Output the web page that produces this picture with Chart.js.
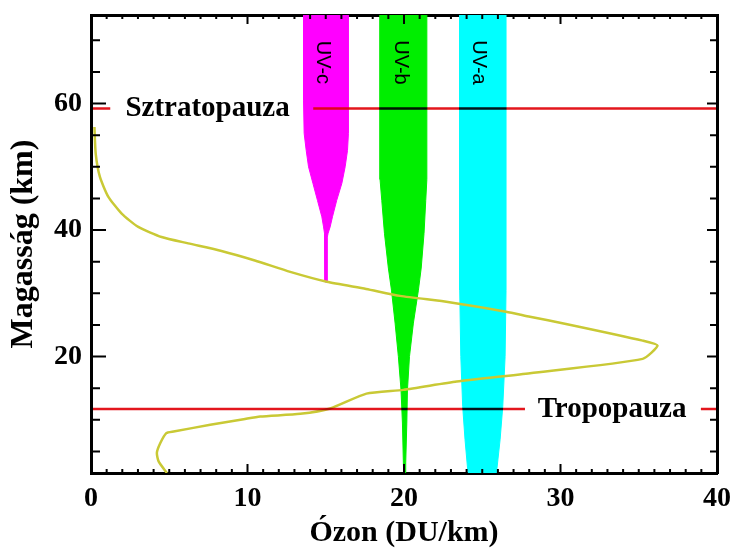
<!DOCTYPE html>
<html>
<head>
<meta charset="utf-8">
<script src="https://cdn.jsdelivr.net/npm/chart.js@4.4.1/dist/chart.umd.min.js"></script>
<style>
  html, body { margin: 0; padding: 0; background: #fff; }
  #wrap { width: 732px; height: 548px; }
</style>
</head>
<body>
<div id="wrap"><canvas id="chart"></canvas></div>
<script>
// ozone profile, read from top to bottom (DU/km vs km)
const ozoneX = [0.22, 0.3, 0.57, 1.1, 1.96, 3.02, 4.51, 6.21, 8.34, 10.47, 12.73, 15.07, 17.58,
  19.75, 22.9, 26.52, 28.05, 30.35, 35.25, 36.2, 35.25, 28.05, 23.37, 19.96, 17.6, 15.28, 13.37,
  10.81, 9.75, 7.62, 5.28, 4.81, 4.43, 4.21, 4.32, 4.85];
const ozoneY = [56.3, 52.1, 48.4, 45.3, 42.6, 40.5, 38.9, 37.9, 36.7, 35.2, 33.4, 31.84, 30.7,
  29.6, 28.6, 27.1, 26.3, 25.16, 22.53, 21.74, 19.64, 17.38, 16.05, 14.74, 14.15, 11.8, 10.95,
  10.53, 10.1, 9.22, 8.16, 7.9, 6.33, 4.8, 3.43, 1.6];

// UV bands: altitude with left / right edge of each band
const uvcAlt = [74, 60.5, 55.3, 52.6, 50.0, 47.4, 44.7, 42.1, 40.5, 39.5, 38.9, 31.8];
const uvcLeft = [13.58, 13.58, 13.62, 13.75, 13.9, 14.18, 14.47, 14.75, 14.86, 14.92, 14.95, 14.95];
const uvcRight = [16.45, 16.45, 16.45, 16.39, 16.24, 16.03, 15.7, 15.43, 15.28, 15.15, 15.1, 15.1];

const uvbAlt = [74, 48, 44.7, 39.5, 34, 30.5, 25.3, 20, 14.7, 9.5, 3.2, 1.6];
const uvbLeft = [18.47, 18.47, 18.58, 18.75, 19.0, 19.2, 19.43, 19.64, 19.81, 19.9, 19.96, 19.98];
const uvbRight = [21.46, 21.46, 21.39, 21.28, 21.1, 20.92, 20.6, 20.35, 20.22, 20.18, 20.11, 20.08];

const uvaAlt = [74, 30.5, 20, 12.1, 6.85, 2.1, 1.6];
const uvaLeft = [23.56, 23.56, 23.63, 23.75, 23.9, 24.07, 24.1];
const uvaRight = [26.52, 26.52, 26.46, 26.31, 26.14, 25.93, 25.9];

const bandNames = ["UV-c", "UV-b", "UV-a"];
const bandLabelX = [14.77, 19.75, 24.73];
const bandLabelY = 66.5;

// pause lines (km) and the x ranges where they are drawn
const stratopause = 59.2;
const stratoSegments = [[0, 1.23], [14.2, 40]];
const tropopause = 11.7;
const tropoSegments = [[0, 27.73], [38.97, 40]];
const stratoLabelX = 2.2;
const tropoLabelX = 28.54;

const SERIF = '"Liberation Serif", "Times New Roman", serif';

function band(alt, left, right) {
  const pts = alt.map((a, i) => ({ x: left[i], y: a }));
  for (let i = alt.length - 1; i >= 0; i--) pts.push({ x: right[i], y: alt[i] });
  return pts;
}

function hline(level, segments) {
  const pts = [];
  segments.forEach(([a, b], i) => {
    if (i > 0) pts.push({ x: a, y: null });
    pts.push({ x: a, y: level }, { x: b, y: level });
  });
  return pts;
}

// fixed box sizes so the plot area sits where the original one does
function fixBox(w, h) {
  return (s) => {
    if (w !== null) s.width = w;
    if (h !== null) s.height = h;
    s.paddingLeft = s.paddingRight = s.paddingTop = s.paddingBottom = 0;
  };
}

const blendMode = {
  id: "blendMode",
  beforeDatasetDraw(chart, args) {
    const ds = chart.data.datasets[args.index];
    if (ds.blend) {
      chart.ctx.save();
      chart.ctx.globalCompositeOperation = ds.blend;
    }
  },
  afterDatasetDraw(chart, args) {
    if (chart.data.datasets[args.index].blend) chart.ctx.restore();
  },
};

const insideTicks = {
  id: "insideTicks",
  afterDraw(chart) {
    const { ctx, chartArea: a, scales: { x, y } } = chart;
    ctx.save();
    ctx.strokeStyle = "#000";
    ctx.lineWidth = 2;
    ctx.beginPath();
    x.ticks.forEach((t) => {
      const px = x.getPixelForValue(t.value);
      const len = t.value % 10 === 0 ? 9 : 4;
      ctx.moveTo(px, a.bottom); ctx.lineTo(px, a.bottom - len);
      ctx.moveTo(px, a.top); ctx.lineTo(px, a.top + len);
    });
    y.ticks.forEach((t) => {
      const py = y.getPixelForValue(t.value);
      const major = t.value % 20 === 0;
      ctx.moveTo(a.left, py); ctx.lineTo(a.left + (major ? 15 : 9), py);
      ctx.moveTo(a.right, py); ctx.lineTo(a.right - (major ? 10 : 7), py);
    });
    ctx.stroke();
    ctx.restore();
  },
};

const notes = {
  id: "notes",
  afterDatasetsDraw(chart) {
    const { ctx, scales: { x, y } } = chart;
    ctx.save();
    ctx.fillStyle = "#000";
    ctx.font = "bold 29px " + SERIF;
    ctx.textAlign = "left";
    ctx.textBaseline = "middle";
    ctx.fillText("Sztratopauza", x.getPixelForValue(stratoLabelX), y.getPixelForValue(stratopause));
    ctx.fillText("Tropopauza", x.getPixelForValue(tropoLabelX), y.getPixelForValue(tropopause));
    ctx.font = '20px "Liberation Sans", Arial, sans-serif';
    ctx.textAlign = "center";
    bandNames.forEach((name, i) => {
      ctx.save();
      ctx.translate(x.getPixelForValue(bandLabelX[i]), y.getPixelForValue(bandLabelY));
      ctx.rotate(Math.PI / 2);
      ctx.fillText(name, 0, 0);
      ctx.restore();
    });
    ctx.restore();
  },
};

const bandStyle = (color) => ({
  backgroundColor: color,
  borderColor: color,
  borderWidth: 1,
  pointRadius: 0,
  fill: "shape",
  tension: 0,
  order: 2,
});

new Chart(document.getElementById("chart"), {
  type: "line",
  data: {
    datasets: [
      { data: hline(stratopause, stratoSegments), borderColor: "#e3161d", borderWidth: 2.5,
        pointRadius: 0, fill: false, order: 0, blend: "multiply" },
      { data: hline(tropopause, tropoSegments), borderColor: "#e3161d", borderWidth: 2.5,
        pointRadius: 0, fill: false, order: 0, blend: "multiply" },
      { data: ozoneX.map((v, i) => ({ x: v, y: ozoneY[i] })), borderColor: "#c9c935", borderWidth: 2.5,
        pointRadius: 0, fill: false, tension: 0.2, order: 1 },
      { data: band(uvcAlt, uvcLeft, uvcRight), ...bandStyle("#ff00ff") },
      { data: band(uvbAlt, uvbLeft, uvbRight), ...bandStyle("#00ee00") },
      { data: band(uvaAlt, uvaLeft, uvaRight), ...bandStyle("#00ffff") },
    ],
  },
  options: {
    responsive: true,
    maintainAspectRatio: false,
    animation: false,
    layout: { padding: 0 },
    plugins: { legend: { display: false }, tooltip: { enabled: false } },
    scales: {
      x: {
        type: "linear", position: "bottom", min: 0, max: 40, z: 1,
        ticks: {
          stepSize: 1, autoSkip: false, maxRotation: 0, padding: 9, color: "#000",
          font: { family: SERIF, size: 28, weight: "bold" },
          callback: (v) => (v % 10 === 0 ? v : ""),
        },
        grid: { display: false, drawTicks: false },
        border: { width: 3, color: "#000" },
        title: {
          display: true, text: "Ózon (DU/km)", color: "#000", padding: 0,
          font: { family: SERIF, size: 30, weight: "bold", lineHeight: 1 },
        },
        afterFit: fixBox(null, 75),
      },
      x2: {
        type: "linear", position: "top", min: 0, max: 40, z: 1,
        ticks: { display: false },
        grid: { display: false, drawTicks: false },
        border: { width: 3, color: "#000" },
        afterFit: fixBox(null, 15),
      },
      y: {
        type: "linear", position: "left", min: 1.6, max: 74, z: 1,
        ticks: {
          stepSize: 5, includeBounds: false, autoSkip: false, padding: 9, color: "#000",
          font: { family: SERIF, size: 28, weight: "bold" },
          callback: (v) => (v % 20 === 0 ? v : ""),
        },
        grid: { display: false, drawTicks: false },
        border: { width: 3, color: "#000" },
        title: {
          display: true, text: "Magasság (km)", color: "#000", padding: { top: 8, bottom: 0 },
          font: { family: SERIF, size: 32, weight: "bold", lineHeight: 1 },
        },
        afterFit: fixBox(91, null),
      },
      y2: {
        type: "linear", position: "right", min: 1.6, max: 74, z: 1,
        ticks: { display: false },
        grid: { display: false, drawTicks: false },
        border: { width: 3, color: "#000" },
        afterFit: fixBox(15, null),
      },
    },
  },
  plugins: [blendMode, insideTicks, notes],
});
</script>
</body>
</html>
